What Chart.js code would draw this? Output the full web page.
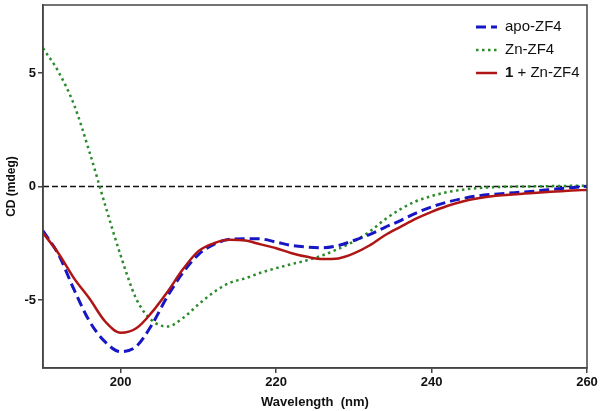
<!DOCTYPE html>
<html>
<head>
<meta charset="utf-8">
<script src="https://cdn.jsdelivr.net/npm/chart.js@4.4.1/dist/chart.umd.min.js"></script>
<style>
  html, body { margin: 0; padding: 0; background: #fff; }
  #wrap { width: 603px; height: 411px; }
</style>
</head>
<body>
<div id="wrap"><canvas id="cd"></canvas></div>
<script>
// DATA
const wavelengths = [190, 192, 194, 196, 198, 200, 202, 204, 206, 208, 210, 212, 214, 216, 218, 220, 222, 224,
  226, 228, 230, 232, 234, 236, 238, 240, 242, 244, 246, 248, 250, 252, 254, 256, 258, 260];
const apoZF4 = [-1.95, -3.0, -4.55, -5.95, -6.85, -7.28, -7.05, -6.1, -4.85, -3.8, -3.0, -2.55, -2.33, -2.3, -2.31, -2.45, -2.6, -2.67,
  -2.7, -2.6, -2.38, -2.12, -1.8, -1.5, -1.17, -0.9, -0.69, -0.53, -0.41, -0.34, -0.29, -0.24, -0.18, -0.11, -0.05, 0.01];
const znZF4 = [6.1, 5.05, 3.6, 1.5, -0.82, -3.05, -4.95, -5.9, -6.17, -5.8, -5.2, -4.65, -4.25, -4.05, -3.8, -3.6, -3.42, -3.25,
  -3.03, -2.75, -2.42, -2.0, -1.45, -1.0, -0.65, -0.42, -0.25, -0.14, -0.07, -0.03, -0.01, 0.0, 0.01, 0.02, 0.03, 0.04];
const cmpdZnZF4 = [-2.05, -2.95, -4.05, -4.95, -5.95, -6.45, -6.25, -5.55, -4.65, -3.65, -2.85, -2.5, -2.35, -2.38, -2.55, -2.72, -2.94, -3.1,
  -3.2, -3.17, -2.95, -2.6, -2.15, -1.78, -1.42, -1.12, -0.86, -0.66, -0.52, -0.42, -0.36, -0.31, -0.26, -0.22, -0.18, -0.15];
const xTicks = [200, 220, 240, 260];
const yTicks = [-5, 0, 5];

const FONT = "'Liberation Sans', Arial, sans-serif";
const AXIS = '#444';

function pts(ys) {
  return wavelengths.map((x, i) => ({ x: x, y: ys[i] }));
}

// custom legend, third label has bold "1"
const legendPlugin = {
  id: 'cdLegend',
  afterDatasetsDraw(chart) {
    const ctx = chart.ctx;
    const items = [
      { ds: 0, parts: [['apo-ZF4', 'normal']] },
      { ds: 1, parts: [['Zn-ZF4', 'normal']] },
      { ds: 2, parts: [['1', 'bold'], [' + Zn-ZF4', 'normal']] }
    ];
    const rows = [27, 50, 73];
    ctx.save();
    items.forEach((it, i) => {
      const d = chart.data.datasets[it.ds];
      const y = rows[i];
      ctx.beginPath();
      ctx.strokeStyle = d.borderColor;
      ctx.lineWidth = d.borderWidth;
      ctx.setLineDash(d.borderDash || []);
      ctx.moveTo(476, y);
      ctx.lineTo(497, y);
      ctx.stroke();
      ctx.setLineDash([]);
      let x = 505;
      ctx.fillStyle = '#111';
      ctx.textBaseline = 'middle';
      it.parts.forEach(p => {
        ctx.font = p[1] + ' 15px ' + FONT;
        ctx.fillText(p[0], x, y);
        x += ctx.measureText(p[0]).width;
      });
    });
    ctx.restore();
  }
};

// frame round the plot
const framePlugin = {
  id: 'frame',
  afterDraw(chart) {
    const a = chart.chartArea;
    const ctx = chart.ctx;
    ctx.save();
    ctx.strokeStyle = AXIS;
    ctx.lineWidth = 1.5;
    ctx.strokeRect(a.left, a.top, a.right - a.left, a.bottom - a.top);
    ctx.restore();
  }
};

new Chart(document.getElementById('cd'), {
  type: 'line',
  data: {
    datasets: [
      {
        label: 'apo-ZF4',
        data: pts(apoZF4),
        borderColor: '#1616c4',
        borderWidth: 3,
        borderDash: [10, 5],
        order: 2
      },
      {
        label: 'Zn-ZF4',
        data: pts(znZF4),
        borderColor: '#2b8a2b',
        borderWidth: 2.5,
        borderDash: [2.5, 3.5],
        order: 3
      },
      {
        label: '1 + Zn-ZF4',
        data: pts(cmpdZnZF4),
        borderColor: '#b01515',
        borderWidth: 2.5,
        order: 1
      },
      {
        label: 'zero',
        data: [{ x: 190, y: 0 }, { x: 260, y: 0 }],
        borderColor: '#111',
        borderWidth: 1.5,
        borderDash: [6, 3],
        cubicInterpolationMode: 'default',
        tension: 0,
        order: 4
      }
    ]
  },
  options: {
    responsive: true,
    maintainAspectRatio: false,
    animation: false,
    events: [],
    layout: { padding: { top: 5, right: 16, left: 0, bottom: 0 } },
    elements: {
      point: { radius: 0 },
      line: { cubicInterpolationMode: 'monotone', fill: false }
    },
    plugins: {
      legend: { display: false },
      tooltip: { enabled: false }
    },
    scales: {
      x: {
        type: 'linear',
        min: 190,
        max: 260,
        afterBuildTicks: s => { s.ticks = xTicks.map(v => ({ value: v })); },
        afterFit: s => { s.height = 43; s.paddingLeft = 0; s.paddingRight = 0; },
        grid: { drawOnChartArea: false, drawTicks: true, tickLength: 5, color: AXIS, lineWidth: 1.5 },
        border: { display: true, color: AXIS, width: 1.5 },
        ticks: { padding: 2, color: '#111', font: { family: FONT, size: 13, weight: 'bold' } },
        title: {
          display: true,
          text: 'Wavelength  (nm)',
          color: '#111',
          padding: { top: 0, bottom: 1 },
          font: { family: FONT, size: 13, weight: 'bold' }
        }
      },
      y: {
        type: 'linear',
        min: -8,
        max: 8,
        afterBuildTicks: s => { s.ticks = yTicks.map(v => ({ value: v })); },
        afterFit: s => { s.width = 43; s.paddingTop = 0; s.paddingBottom = 0; },
        grid: { drawOnChartArea: false, drawTicks: true, tickLength: 5, color: AXIS, lineWidth: 1.5 },
        border: { display: true, color: AXIS, width: 1.5 },
        ticks: { padding: 2, color: '#111', font: { family: FONT, size: 13, weight: 'bold' } },
        title: {
          display: true,
          text: 'CD (mdeg)',
          color: '#111',
          padding: { top: 4, bottom: 0 },
          font: { family: FONT, size: 12, weight: 'bold' }
        }
      }
    }
  },
  plugins: [legendPlugin, framePlugin]
});
</script>
</body>
</html>
